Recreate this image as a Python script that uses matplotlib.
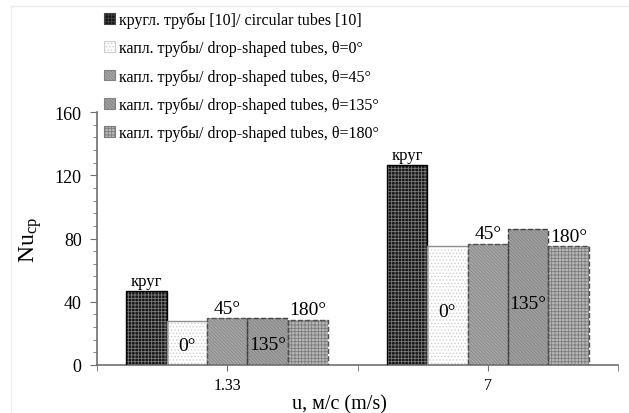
import matplotlib
matplotlib.use("Agg")
import matplotlib.pyplot as plt
import numpy as np
from matplotlib.patches import Patch
from matplotlib.lines import Line2D

plt.rcParams['font.family'] = ['Liberation Serif', 'DejaVu Serif']
plt.rcParams['mathtext.fontset'] = 'custom'
plt.rcParams['mathtext.rm'] = 'Liberation Serif'
plt.rcParams['mathtext.it'] = 'Liberation Serif:italic'
plt.rcParams['hatch.linewidth'] = 0.6

# Данные
categories = ['1.33', '7']
series_labels = [
    'кругл. трубы [10]/ circular tubes [10]',
    'капл. трубы/ drop-shaped tubes, θ=0°',
    'капл. трубы/ drop-shaped tubes, θ=45°',
    'капл. трубы/ drop-shaped tubes, θ=135°',
    'капл. трубы/ drop-shaped tubes, θ=180°',
]
krug = [47, 126.5]
theta0 = [28, 75]
theta45 = [29.5, 76.5]
theta135 = [29.5, 86]
theta180 = [28.5, 75]
bar_texts = ['круг', '0°', '45°', '135°', '180°']
inside = [False, True, False, True, False]

series = [krug, theta0, theta45, theta135, theta180]

# стили
faces = ['#151515', '#ffffff', '#a9a9a9', '#a2a2a2', '#b8b8b8']
hatches = ['+++++', '.....', '\\' * 10, '\\' * 10, '+++++']
hatch_cols = ['#7a7a7a', '#cfcfcf', '#828282', '#828282', '#7c7c7c']
edges = ['#000000', '#909090', '#505050', '#404040', '#505050']
styles = ['-', '-', '--', '--', '--']

fig = plt.figure(figsize=(6.29, 4.14), dpi=100)
ax = fig.add_axes([97 / 629, 48 / 414, 521 / 629, 253 / 414])

x = np.arange(len(categories))
width = 0.155
offsets = (np.arange(5) - 2) * width

for i, vals in enumerate(series):
    pos = x + offsets[i]
    ax.bar(pos, vals, width, color=faces[i], edgecolor='none', zorder=2)
    ax.bar(pos, vals, width, color='none', edgecolor=hatch_cols[i],
           hatch=hatches[i], linewidth=0, zorder=3)
    ax.bar(pos, vals, width, color='none', edgecolor=edges[i],
           linewidth=1.0, linestyle=styles[i], zorder=4)
    for p, v in zip(pos, vals):
        if inside[i]:
            ax.text(p, v * 0.45, bar_texts[i], ha='center', va='center',
                    fontsize=14, zorder=5)
        else:
            fs = 12 if i == 0 else 14
            ax.text(p, v + 1.0, bar_texts[i], ha='center', va='bottom',
                    fontsize=fs, zorder=5)

ax.set_xlim(-0.5, 1.5)
ax.set_ylim(0, 160)
ax.set_xticks(x)
ax.set_xticklabels(categories, fontsize=11.5)
ax.set_xticks([-0.5, 0.5, 1.5], minor=True)
ax.set_yticks(np.arange(0, 161, 40))
ax.set_yticks(np.arange(0, 161, 8), minor=True)
ax.tick_params(axis='y', which='major', labelsize=13, length=5, color='#707070', pad=6)
ax.tick_params(axis='y', which='minor', length=3, color='#707070')
ax.tick_params(axis='x', which='both', length=4, color='#707070', pad=5)

for s in ['top', 'right']:
    ax.spines[s].set_visible(False)
for s in ['left', 'bottom']:
    ax.spines[s].set_color('#707070')
    ax.spines[s].set_linewidth(1.2)

ax.set_ylabel('Nu$_{\\mathrm{ср}}$', fontsize=17, labelpad=8)
ax.set_xlabel('u, м/с (m/s)', fontsize=14.5)
ax.xaxis.set_label_coords(0.466, -0.115)

handles = [Patch(facecolor=faces[i], edgecolor=hatch_cols[i] if i else '#444',
                 hatch=hatches[i], linewidth=0.8) for i in range(5)]
fig.legend(handles, series_labels, loc='upper left',
           bbox_to_anchor=(98 / 629, 1 - 6 / 414), frameon=False,
           fontsize=11.5, handlelength=0.65, handleheight=0.65,
           handletextpad=0.25, labelspacing=0.74, borderaxespad=0)

# светлая рамка вокруг рисунка
fig.add_artist(Line2D([11 / 629, 1], [407 / 414, 407 / 414], color='#ececec', lw=1))
fig.add_artist(Line2D([11 / 629, 11 / 629], [0, 407 / 414], color='#ececec', lw=1))

fig.savefig('out.png', dpi=100)
